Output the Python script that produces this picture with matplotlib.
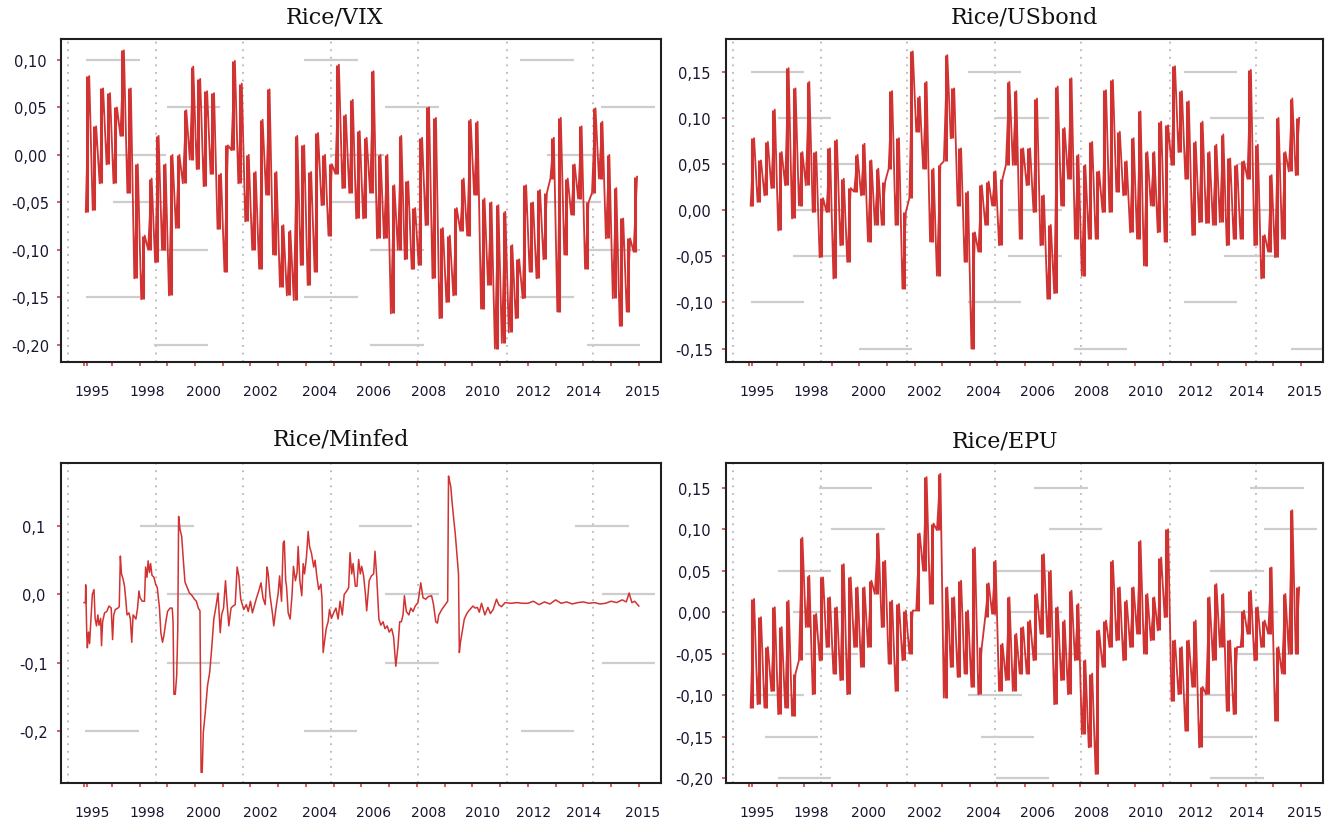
import matplotlib
matplotlib.use("Agg")
import matplotlib.pyplot as plt
import numpy as np

# quarterly bins 1995.0 .. 2014.75; each bin holds the low and high of the
# weekly trace
bins = np.arange(1995.0, 2015.0, 0.25)

vix_hi = [0.083, 0.030, 0.070, 0.065, 0.050, 0.110, 0.070, -0.010,
          -0.085, -0.025, 0.020, -0.010, 0.000, 0.000, 0.047, 0.093,
          0.080, 0.067, 0.065, -0.020, 0.010, 0.099, 0.075, 0.000,
          -0.018, 0.037, 0.069, -0.018, -0.074, -0.080, 0.020, 0.010,
          -0.018, 0.023, 0.000, -0.010, 0.095, 0.042, 0.058, 0.025,
          0.018, 0.088, 0.000, 0.000, -0.032, 0.020, -0.028, -0.056,
          0.018, 0.050, 0.039, -0.077, -0.085, -0.056, -0.025, 0.037,
          0.035, -0.046, -0.050, -0.053, -0.060, -0.095, -0.110, -0.032,
          -0.050, -0.037, -0.040, 0.018, 0.039, -0.025, -0.010, 0.030,
          -0.050, 0.049, 0.035, 0.000, -0.035, -0.067, -0.088, -0.023]
vix_lo = [-0.060, -0.058, -0.030, -0.010, -0.030, 0.020, -0.040, -0.130,
          -0.152, -0.100, -0.113, -0.100, -0.148, -0.077, -0.030, -0.005,
          -0.015, -0.033, -0.020, -0.078, -0.123, 0.005, -0.030, -0.070,
          -0.100, -0.120, -0.042, -0.105, -0.139, -0.148, -0.153, -0.116,
          -0.137, -0.123, -0.053, -0.085, -0.020, -0.035, -0.040, -0.067,
          -0.067, -0.040, -0.088, -0.088, -0.167, -0.100, -0.110, -0.120,
          -0.116, -0.074, -0.130, -0.172, -0.155, -0.148, -0.080, -0.085,
          -0.042, -0.162, -0.137, -0.204, -0.198, -0.187, -0.172, -0.151,
          -0.123, -0.130, -0.110, -0.025, -0.165, -0.105, -0.063, -0.046,
          -0.120, -0.040, -0.025, -0.088, -0.151, -0.180, -0.165, -0.102]

bond_hi = [0.078, 0.054, 0.074, 0.109, 0.063, 0.154, 0.132, 0.063,
           0.139, 0.063, 0.013, 0.067, 0.076, 0.034, 0.024, 0.060,
           0.072, 0.054, 0.045, 0.031, 0.129, 0.078, -0.002, 0.172,
           0.123, 0.139, 0.045, 0.049, 0.168, 0.132, 0.067, 0.020,
           -0.024, 0.027, 0.031, 0.042, 0.034, 0.139, 0.129, 0.067,
           0.067, 0.121, 0.016, -0.016, 0.134, 0.089, 0.143, 0.060,
           0.049, 0.074, 0.042, 0.130, 0.141, 0.085, 0.053, 0.078,
           0.107, 0.063, 0.063, 0.096, 0.092, 0.156, 0.129, 0.118,
           0.074, 0.096, 0.063, 0.071, 0.082, 0.056, 0.049, 0.053,
           0.152, 0.071, -0.027, 0.038, 0.100, 0.063, 0.121, 0.100]
bond_lo = [0.005, 0.009, 0.016, 0.024, -0.022, 0.027, -0.009, 0.005,
           0.027, -0.002, -0.051, -0.002, -0.074, -0.038, -0.056, 0.020,
           0.016, -0.034, -0.016, -0.016, 0.045, -0.016, -0.085, 0.013,
           0.085, 0.045, -0.034, -0.071, 0.053, 0.078, 0.005, -0.056,
           -0.150, -0.045, -0.016, 0.005, -0.038, 0.049, 0.049, -0.031,
           0.027, -0.002, -0.038, -0.096, -0.090, 0.005, 0.034, -0.031,
           -0.071, -0.031, -0.031, -0.002, -0.002, 0.020, 0.016, -0.024,
           -0.031, -0.060, 0.005, -0.024, -0.034, 0.049, 0.063, 0.034,
           -0.027, -0.013, -0.014, -0.016, -0.013, -0.038, -0.031, -0.031,
           0.034, -0.038, -0.074, -0.045, -0.051, -0.031, 0.042, 0.038]

epu_hi = [0.016, -0.006, -0.042, 0.006, -0.018, 0.014, -0.074, 0.090,
          0.044, -0.002, 0.042, 0.018, 0.006, 0.058, 0.042, 0.030,
          0.030, 0.038, 0.095, 0.062, 0.014, 0.010, 0.002, 0.002,
          0.095, 0.163, 0.107, 0.167, 0.030, 0.018, 0.038, 0.002,
          0.078, -0.042, 0.035, 0.062, -0.038, 0.018, -0.026, -0.018,
          -0.010, 0.022, 0.070, 0.050, 0.006, -0.010, 0.026, 0.010,
          -0.058, -0.074, -0.022, -0.010, 0.062, 0.030, 0.014, 0.030,
          0.086, 0.022, 0.018, 0.066, 0.100, -0.034, -0.042, -0.034,
          -0.010, -0.090, 0.018, 0.034, 0.022, -0.034, -0.042, 0.002,
          0.026, 0.006, -0.010, 0.054, -0.042, 0.022, 0.123, 0.030]
epu_lo = [-0.115, -0.111, -0.115, -0.095, -0.123, -0.115, -0.125, -0.058,
          -0.018, -0.099, -0.058, -0.042, -0.074, -0.082, -0.099, -0.042,
          -0.066, -0.042, 0.022, -0.018, -0.062, -0.095, -0.058, -0.050,
          0.002, 0.050, 0.010, 0.099, -0.103, -0.066, -0.078, -0.074,
          -0.090, -0.099, -0.006, -0.002, -0.095, -0.082, -0.095, -0.074,
          -0.074, -0.058, -0.026, -0.030, -0.111, -0.082, -0.099, -0.058,
          -0.147, -0.163, -0.195, -0.066, -0.042, -0.034, -0.058, -0.042,
          -0.026, -0.050, -0.034, -0.022, -0.006, -0.107, -0.099, -0.143,
          -0.090, -0.163, -0.099, -0.058, -0.042, -0.119, -0.123, -0.042,
          -0.026, -0.058, -0.042, -0.026, -0.131, -0.074, -0.050, -0.050]

# Rice/Minfed is smoother, read as (year, value) points
mf_t = [1995.00, 1995.05, 1995.06, 1995.10, 1995.12, 1995.16, 1995.20, 1995.26,
        1995.30, 1995.36, 1995.40, 1995.45, 1995.50, 1995.54, 1995.60, 1995.63,
        1995.67, 1995.74, 1995.82, 1995.90, 1995.98, 1996.03, 1996.07, 1996.13,
        1996.22, 1996.27, 1996.31, 1996.35, 1996.41, 1996.46, 1996.51, 1996.55,
        1996.62, 1996.67, 1996.72, 1996.77, 1996.87, 1996.93, 1996.98, 1997.02,
        1997.10, 1997.18, 1997.22, 1997.27, 1997.31, 1997.36, 1997.40, 1997.45,
        1997.52, 1997.58, 1997.64, 1997.72, 1997.77, 1997.83, 1997.88, 1997.95,
        1998.01, 1998.10, 1998.18, 1998.21, 1998.24, 1998.29, 1998.34, 1998.38,
        1998.41, 1998.46, 1998.52, 1998.58, 1998.64, 1998.70, 1998.80, 1998.90,
        1998.98, 1999.05, 1999.12, 1999.18, 1999.22, 1999.26, 1999.30, 1999.37,
        1999.45, 1999.53, 1999.60, 1999.68, 1999.76, 1999.83, 1999.91, 1999.96,
        2000.03, 2000.10, 2000.15, 2000.22, 2000.30, 2000.37, 2000.45, 2000.52,
        2000.58, 2000.65, 2000.76, 2000.85, 2000.92, 2001.00, 2001.07, 2001.15,
        2001.22, 2001.30, 2001.38, 2001.45, 2001.53, 2001.60, 2001.64, 2001.70,
        2001.80, 2001.84, 2001.92, 2002.00, 2002.05, 2002.12, 2002.18, 2002.22,
        2002.27, 2002.30, 2002.36, 2002.43, 2002.50, 2002.55, 2002.62, 2002.68,
        2002.72, 2002.78, 2002.85, 2002.90, 2002.95, 2003.02, 2003.08, 2003.13,
        2003.20, 2003.28, 2003.33, 2003.39, 2003.46, 2003.54, 2003.58, 2003.62,
        2003.68, 2003.73, 2003.80, 2003.85, 2003.92, 2004.00, 2004.08, 2004.16,
        2004.23, 2004.31, 2004.38, 2004.47, 2004.54, 2004.59, 2004.65, 2004.70,
        2004.78, 2004.84, 2004.90, 2004.96, 2005.01, 2005.08, 2005.15, 2005.19,
        2005.28, 2005.36, 2005.44, 2005.49, 2005.55, 2005.63, 2005.70, 2005.78,
        2005.85, 2005.93, 2006.00, 2006.09, 2006.16, 2006.24, 2006.32, 2006.38,
        2006.44, 2006.50, 2006.55, 2006.62, 2006.71, 2006.78, 2006.86, 2006.94,
        2007.04, 2007.14, 2007.22, 2007.32, 2007.42, 2007.53, 2007.60, 2007.68,
        2007.74, 2007.79, 2007.90, 2008.02, 2008.11, 2008.14, 2008.18, 2008.22,
        2008.27, 2008.33, 2008.38, 2008.42, 2008.46, 2008.50, 2008.53, 2008.57,
        2008.61, 2008.71, 2008.80, 2008.87, 2009.02, 2009.10, 2009.18, 2009.25,
        2009.33, 2009.45, 2009.56, 2009.65, 2009.75, 2009.87, 2009.95, 2010.05,
        2010.18, 2010.40, 2010.60, 2010.80, 2011.00, 2011.20, 2011.40, 2011.60,
        2011.80, 2012.00, 2012.20, 2012.40, 2012.60, 2012.80, 2013.00, 2013.20,
        2013.40, 2013.60, 2013.80, 2014.00, 2014.20, 2014.40, 2014.55, 2014.65,
        2014.75, 2014.85, 2015.00]
mf_v = [-0.012, -0.012, 0.014, -0.060, -0.078, -0.055, -0.072, -0.030,
        0.000, 0.007, -0.035, -0.046, -0.030, -0.045, -0.035, -0.075,
        -0.040, -0.027, -0.025, -0.017, -0.020, -0.066, -0.030, -0.022,
        -0.020, -0.018, 0.056, 0.030, 0.022, 0.012, -0.010, -0.030,
        -0.027, -0.036, -0.070, -0.030, -0.036, -0.020, 0.005, -0.005,
        -0.010, -0.010, 0.040, 0.025, 0.049, 0.032, 0.045, 0.028,
        0.025, 0.015, 0.010, -0.020, -0.056, -0.070, -0.060, -0.040,
        -0.025, -0.020, -0.020, -0.040, -0.146, -0.146, -0.119, -0.050,
        0.114, 0.095, 0.085, 0.050, 0.018, 0.012, 0.002, -0.002,
        -0.007, -0.010, -0.020, -0.024, -0.260, -0.260, -0.202, -0.173,
        -0.134, -0.114, -0.080, -0.036, -0.017, 0.002, -0.056, -0.030,
        -0.020, 0.020, -0.010, -0.046, -0.020, -0.017, -0.015, 0.040,
        0.027, -0.007, -0.022, -0.015, -0.025, -0.010, -0.027, -0.015,
        -0.005, 0.005, 0.017, -0.005, -0.015, 0.040, 0.030, 0.000,
        -0.030, -0.046, -0.020, 0.002, 0.027, -0.010, 0.075, 0.078,
        0.020, 0.012, -0.027, -0.036, 0.000, 0.041, 0.020, 0.032,
        0.070, 0.020, -0.002, 0.045, 0.030, 0.055, 0.092, 0.070,
        0.060, 0.040, 0.050, 0.027, 0.007, 0.015, -0.007, -0.085,
        -0.066, -0.050, -0.040, -0.022, -0.035, -0.027, -0.020, -0.036,
        -0.010, -0.030, 0.000, 0.005, 0.010, 0.061, 0.030, 0.045,
        0.012, 0.012, 0.051, 0.030, 0.041, 0.027, -0.002, -0.024,
        0.020, 0.027, 0.030, 0.063, 0.027, -0.036, -0.045, -0.040,
        -0.050, -0.046, -0.055, -0.050, -0.062, -0.105, -0.075, -0.040,
        -0.040, -0.030, -0.002, -0.025, -0.030, -0.020, -0.025, -0.017,
        -0.012, 0.017, -0.005, -0.007, -0.003, -0.002, -0.015, -0.040,
        -0.042, -0.030, -0.022, -0.015, -0.010, 0.173, 0.165, 0.158,
        0.134, 0.109, 0.090, 0.070, 0.050, 0.030, -0.085, -0.070,
        -0.060, -0.036, -0.028, -0.024, -0.017, -0.020, -0.019, -0.026,
        -0.013, -0.030, -0.019, -0.028, -0.022, -0.007, -0.015, -0.018,
        -0.012, -0.013, -0.012, -0.013, -0.013, -0.010, -0.015, -0.011,
        -0.014, -0.008, -0.013, -0.011, -0.014, -0.012, -0.011, -0.013,
        -0.012, -0.014, -0.013, -0.010, -0.012, -0.008, -0.011, 0.002,
        -0.012, -0.010, -0.017]

# light grey horizontal strokes: level -> start years (each 1.93 years long)
vix_gray = {0.10: [1995.07, 2002.94, 2010.73], 0.05: [1997.98, 2005.85, 2013.65],
            0.00: [1996.03, 2003.88, 2011.69], -0.05: [1996.03, 2003.88, 2011.70],
            -0.10: [1997.54, 2005.31, 2013.13], -0.15: [1995.07, 2002.94, 2010.73],
            -0.20: [1997.54, 2005.31, 2013.13]}
bond_gray = {0.15: [1995.07, 2002.93, 2010.76], 0.10: [1996.06, 2003.95, 2011.72],
             0.05: [1997.05, 2004.92, 2012.71], 0.00: [1996.58, 2004.40, 2012.23],
             -0.05: [1996.58, 2004.40, 2012.23], -0.10: [1995.07, 2002.93, 2010.76],
             -0.15: [1998.98, 2006.78, 2014.64]}
mf_gray = {0.1: [1997.02, 2004.90, 2012.70], 0.0: [1997.98, 2005.86, 2013.66],
           -0.1: [1997.98, 2005.86, 2013.66], -0.2: [1995.05, 2002.92, 2010.75]}
epu_gray = {0.15: [1997.54, 2005.34, 2013.17], 0.10: [1997.99, 2005.87, 2013.67],
            0.05: [1996.04, 2003.95, 2011.72], 0.00: [1996.58, 2004.40, 2012.23],
            -0.05: [1997.02, 2004.92, 2012.71], -0.10: [1995.07, 2002.95, 2010.76],
            -0.15: [1995.58, 2003.41, 2011.33], -0.20: [1996.04, 2003.95, 2011.72]}
SEG_LEN = 1.93

vgrid = [1994.43, 1997.61, 2000.74, 2003.92, 2007.05, 2010.24, 2013.36]
year_ticks = [1995.0, 1995.12] + list(range(1996, 2016))
xlabels = ["1995", "1998", "2000", "2002", "2004", "2006", "2008", "2010", "2012", "2014", "2015"]
xlabel_pos = [1995.28, 1997.27, 1999.32, 2001.36, 2003.5, 2005.45, 2007.42, 2009.38, 2011.2, 2013.02, 2015.15]

RED = "#d13232"
TXT = "#161630"
W, H = 1340, 829


def zigzag(lo, hi):
    t = np.repeat(bins, 2) + np.tile([0.0625, 0.1875], len(bins))
    v = np.column_stack([lo, hi]).ravel()
    return t, v


def panel(px_box, title, title_px, ylim, yticks, ndec, gray, ypad=19):
    x0, y0, x1, y1 = px_box
    ax = fig.add_axes([x0 / W, 1 - y1 / H, (x1 - x0) / W, (y1 - y0) / H])
    ax.set_xlim(1994.17, 2015.8)
    ax.set_ylim(*ylim)
    for x in vgrid:
        ax.axvline(x, color="#b8b8b8", lw=1.3, ls=(0, (1, 3.2)), zorder=1)
    for level, starts in gray.items():
        s = np.array(starts)
        ax.hlines([level] * len(s), s, s + SEG_LEN, color="#cdcdcd", lw=1.6, zorder=1)

    ax.set_yticks(yticks)
    ax.set_yticklabels([f"{y:.{ndec}f}".replace(".", ",") for y in yticks])
    for lab in ax.get_yticklabels():
        lab.set_horizontalalignment("center")
    ax.set_xticks(year_ticks)
    ax.set_xticklabels([])
    ax.tick_params(axis="both", direction="out", color=RED, length=3, width=1.1,
                   labelsize=10.5, labelcolor=TXT)
    ax.tick_params(axis="y", pad=ypad)
    for sp in ax.spines.values():
        sp.set_linewidth(1.5)
        sp.set_color("#202020")
    for lab, xp in zip(xlabels, xlabel_pos):
        ax.annotate(lab, xy=(xp, 0), xycoords=("data", "axes fraction"),
                    xytext=(0, -21), textcoords="offset points",
                    ha="center", va="center", fontsize=10, color=TXT)
    fig.text(title_px[0] / W, 1 - title_px[1] / H, title, ha="center", va="center",
             fontsize=16, family="DejaVu Serif", color="#111111")
    return ax


def dense_series(ax, lo, hi):
    # range of the weekly trace inside each quarter, plus the path through it
    t, v = zigzag(lo, hi)
    ax.vlines(bins + 0.125, lo, hi, color=RED, lw=2.2, zorder=3)
    ax.plot(t, v, color=RED, lw=1.3, zorder=3)


fig = plt.figure(figsize=(W / 100, H / 100), dpi=100)

ax = panel((61, 40, 661, 362.5), "Rice/VIX", (335, 18), (-0.2176, 0.122),
           [0.10, 0.05, 0.0, -0.05, -0.10, -0.15, -0.20], 2, vix_gray)
dense_series(ax, vix_lo, vix_hi)

ax = panel((726, 40, 1323, 362.5), "Rice/USbond", (1024, 18), (-0.164, 0.1855),
           [0.15, 0.10, 0.05, 0.0, -0.05, -0.10, -0.15], 2, bond_gray, ypad=20)
dense_series(ax, bond_lo, bond_hi)

ax = panel((61, 464, 661, 784), "Rice/Minfed", (341, 439), (-0.2756, 0.192),
           [0.1, 0.0, -0.1, -0.2], 1, mf_gray, ypad=17)
ax.plot(mf_t, mf_v, color=RED, lw=1.1, zorder=3)

ax = panel((726, 464, 1323, 784), "Rice/EPU", (1005, 442), (-0.206, 0.18),
           [0.15, 0.10, 0.05, 0.0, -0.05, -0.10, -0.15, -0.20], 2, epu_gray, ypad=20)
dense_series(ax, epu_lo, epu_hi)

fig.savefig("out.png", dpi=100, facecolor="white")
